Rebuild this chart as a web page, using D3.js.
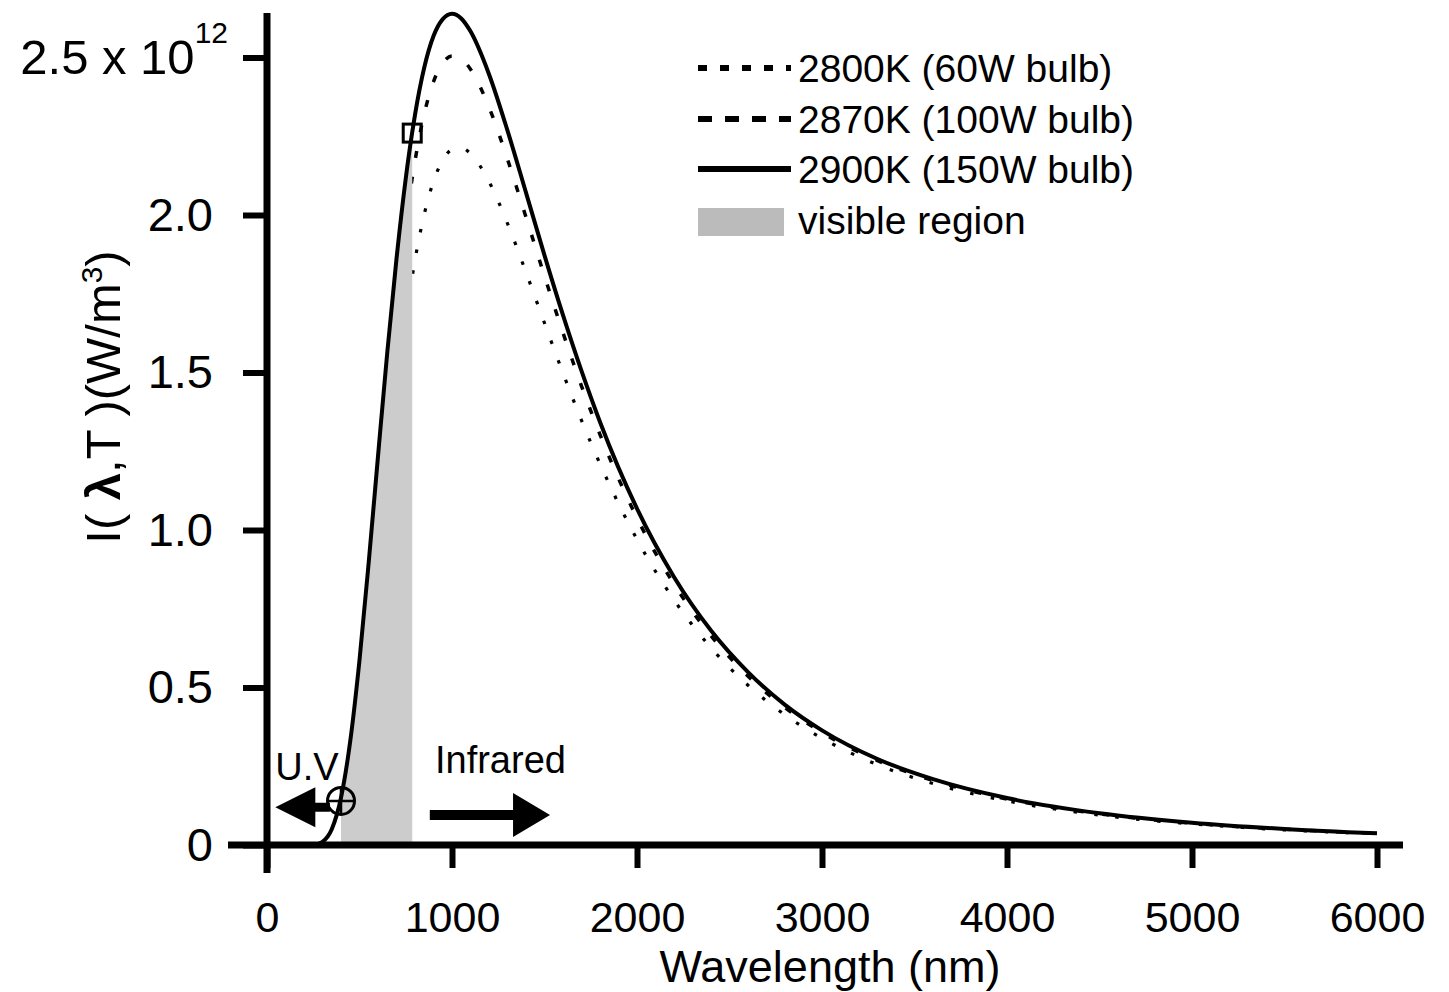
<!DOCTYPE html>
<html><head><meta charset="utf-8">
<script src="https://cdn.jsdelivr.net/npm/d3@7"></script>
<style>
body{margin:0;background:#fff}
svg{display:block}
text{font-family:"Liberation Sans",Arial,Helvetica,sans-serif;fill:#000}
</style>
</head><body><svg id="chart" width="1449" height="992"></svg>
<script>
// ---- data ----
const wavelengths = [280,300,350,400,450,500,550,600,650,700,750,785,800,850,900,950,1000,1050,1100,1200,1300,1400,1500,1600,1700,1800,2000,2200,2400,2600,2800,3000,3300,3600,4000,4500,5000,5500,6000];
const values2800 = [0.002,0.006,0.030,0.096,0.223,0.412,0.651,0.918,1.189,1.445,1.670,1.805,1.857,2.002,2.107,2.174,2.208,2.213,2.195,2.106,1.973,1.818,1.657,1.498,1.348,1.210,0.970,0.778,0.626,0.507,0.413,0.339,0.255,0.195,0.140,0.095,0.067,0.048,0.036];
const values2870 = [0.004,0.009,0.043,0.132,0.294,0.529,0.818,1.132,1.443,1.728,1.974,2.118,2.172,2.321,2.423,2.482,2.505,2.496,2.463,2.342,2.177,1.993,1.806,1.626,1.457,1.303,1.038,0.828,0.664,0.536,0.436,0.357,0.268,0.205,0.146,0.099,0.069,0.050,0.037];
const values2900 = [0.004,0.010,0.050,0.150,0.330,0.587,0.899,1.234,1.563,1.861,2.116,2.263,2.318,2.468,2.568,2.622,2.639,2.624,2.583,2.447,2.268,2.071,1.872,1.682,1.505,1.343,1.068,0.851,0.681,0.549,0.445,0.364,0.273,0.209,0.149,0.101,0.071,0.051,0.037];
const seriesNames = ["2800K (60W bulb)","2870K (100W bulb)","2900K (150W bulb)"];
const visibleLabel = "visible region";
const visibleRange = [400, 785];
const dashedStart = 400;
const markerLambdas = [400, 785];
const markerValues = [0.14, 2.26];
const markerShapes = ["circle", "square"];
const xTickValues = [0,1000,2000,3000,4000,5000,6000];
const yTickValues = [0,0.5,1.0,1.5,2.0,2.5];
const yTickLabels = ["0","0.5","1.0","1.5","2.0","2.5 x 10"];
const yExponent = "12";
const xTitle = "Wavelength (nm)";
const uvLabel = "U.V";
const irLabel = "Infrared";
// arrows in data units: [lambda start, lambda tip, value]
const uvArrow = [340, 45, 0.12];
const irArrow = [880, 1530, 0.095];
const uvLabelPos = [45, 0.206];
const irLabelPos = [908, 0.229];

// ---- chart ----
const svg = d3.select("#chart");
svg.append("rect").attr("width",1449).attr("height",992).attr("fill","#fff");

const x = d3.scaleLinear().domain([0,6000]).range([267,1377]);
const y = d3.scaleLinear().domain([0,2.5]).range([845,57.5]);

const pts = vals => wavelengths.map((w,i)=>[w, vals[i]]);
const line = d3.line().x(d=>x(d[0])).y(d=>y(d[1])).curve(d3.curveMonotoneX);
const area = d3.area().x(d=>x(d[0])).y0(y(0)).y1(d=>y(d[1])).curve(d3.curveMonotoneX);

// dotted 2800K
svg.append("path").datum(pts(values2800).filter(d=>d[0]>=dashedStart))
  .attr("d", line).attr("fill","none").attr("stroke","#000")
  .attr("stroke-width",3.2).attr("stroke-dasharray","3.5 17.5");
// dashed 2870K
svg.append("path").datum(pts(values2870).filter(d=>d[0]>=dashedStart))
  .attr("d", line).attr("fill","none").attr("stroke","#000")
  .attr("stroke-width",3.5).attr("stroke-dasharray","7 19");
// visible region
svg.append("path").datum(pts(values2900).filter(d=>d[0]>=visibleRange[0] && d[0]<=visibleRange[1]))
  .attr("d", area).attr("fill","#cccccc");
// solid 2900K
svg.append("path").datum(pts(values2900))
  .attr("d", line).attr("fill","none").attr("stroke","#000").attr("stroke-width",4);

// markers
markerLambdas.forEach((w,i)=>{
  const cx = x(w), cy = y(markerValues[i]);
  if (markerShapes[i]==="circle") {
    svg.append("circle").attr("cx",cx).attr("cy",cy).attr("r",13.5)
      .attr("fill","none").attr("stroke","#000").attr("stroke-width",3);
    svg.append("path").attr("d",`M${cx-13.5},${cy}H${cx+13.5}M${cx},${cy-13.5}V${cy+13.5}`)
      .attr("stroke","#000").attr("stroke-width",2.5);
  } else {
    svg.append("rect").attr("x",cx-9).attr("y",cy-9).attr("width",18).attr("height",18)
      .attr("fill","none").attr("stroke","#000").attr("stroke-width",3);
  }
});

// axes
const yAxis = svg.append("g").attr("transform",`translate(${x(0)},0)`)
  .call(d3.axisLeft(y).tickValues(yTickValues).tickSize(24).tickPadding(30)
    .tickFormat((d,i)=>yTickLabels[i]));
const xAxis = svg.append("g").attr("transform",`translate(0,${y(0)})`)
  .call(d3.axisBottom(x).tickValues(xTickValues).tickSize(23).tickPadding(33)
    .tickFormat(d=>String(d)));
[yAxis,xAxis].forEach(g=>{
  g.select(".domain").remove();
  g.selectAll(".tick line").attr("stroke","#000").attr("stroke-width",6);
  g.selectAll("text").attr("fill","#000").style("font-family",'"Liberation Sans",Arial,sans-serif');
});
yAxis.selectAll("text").style("font-size","47px");
xAxis.selectAll("text").style("font-size","43px");
// exponent on top tick
yAxis.selectAll(".tick text").filter(d=>d===2.5)
  .attr("x",-39).style("font-size","49px")
  .append("tspan").attr("dy","-31").style("font-size","30px").text(yExponent);

// axis lines
svg.append("line").attr("x1",x(0)).attr("x2",x(0)).attr("y1",13).attr("y2",873)
  .attr("stroke","#000").attr("stroke-width",7);
svg.append("line").attr("x1",228).attr("x2",1403).attr("y1",y(0)).attr("y2",y(0))
  .attr("stroke","#000").attr("stroke-width",7);

// axis titles
svg.append("text").attr("x",(x(0)+x(6000))/2+8).attr("y",982)
  .attr("text-anchor","middle").style("font-size","45px").text(xTitle);
const yt = svg.append("text").attr("transform","translate(120,397) rotate(-90)")
  .attr("text-anchor","middle").style("font-size","49px");
yt.append("tspan").text("I( ");
yt.append("tspan").style("font-weight","bold").text("λ");
yt.append("tspan").text(",T )(W/m");
yt.append("tspan").attr("dy","-18").style("font-size","30px").text("3");
yt.append("tspan").attr("dy","18").text(")");

// arrows
function arrow(a, halfShaft, headLen, headHalf){
  const x0 = x(a[0]), x1 = x(a[1]), yy = y(a[2]);
  const dir = Math.sign(x1-x0);
  const xb = x1 - dir*headLen;
  svg.append("path").attr("d",
    `M${x0},${yy-halfShaft}L${xb},${yy-halfShaft}L${xb},${yy-headHalf}L${x1},${yy}L${xb},${yy+headHalf}L${xb},${yy+halfShaft}L${x0},${yy+halfShaft}Z`)
    .attr("fill","#000");
}
arrow(uvArrow, 4.5, 40, 20);
arrow(irArrow, 5, 37, 22);
svg.append("text").attr("x",x(uvLabelPos[0])).attr("y",y(uvLabelPos[1])).style("font-size","38px").text(uvLabel);
svg.append("text").attr("x",x(irLabelPos[0])).attr("y",y(irLabelPos[1])).style("font-size","38px").text(irLabel);

// legend
const lg = svg.append("g");
const legY = [68, 119, 169];
const dashes = ["9 13","14 13",null];
seriesNames.forEach((n,i)=>{
  const l = lg.append("line").attr("x1",698).attr("x2",791).attr("y1",legY[i]).attr("y2",legY[i])
    .attr("stroke","#000").attr("stroke-width",6);
  if (dashes[i]) l.attr("stroke-dasharray",dashes[i]);
  lg.append("text").attr("x",798).attr("y",legY[i]+14).style("font-size","39px").text(n);
});
lg.append("rect").attr("x",698).attr("y",208).attr("width",86).attr("height",28).attr("fill","#bbbbbb");
lg.append("text").attr("x",798).attr("y",234).style("font-size","39px").text(visibleLabel);
</script>
</body></html>
